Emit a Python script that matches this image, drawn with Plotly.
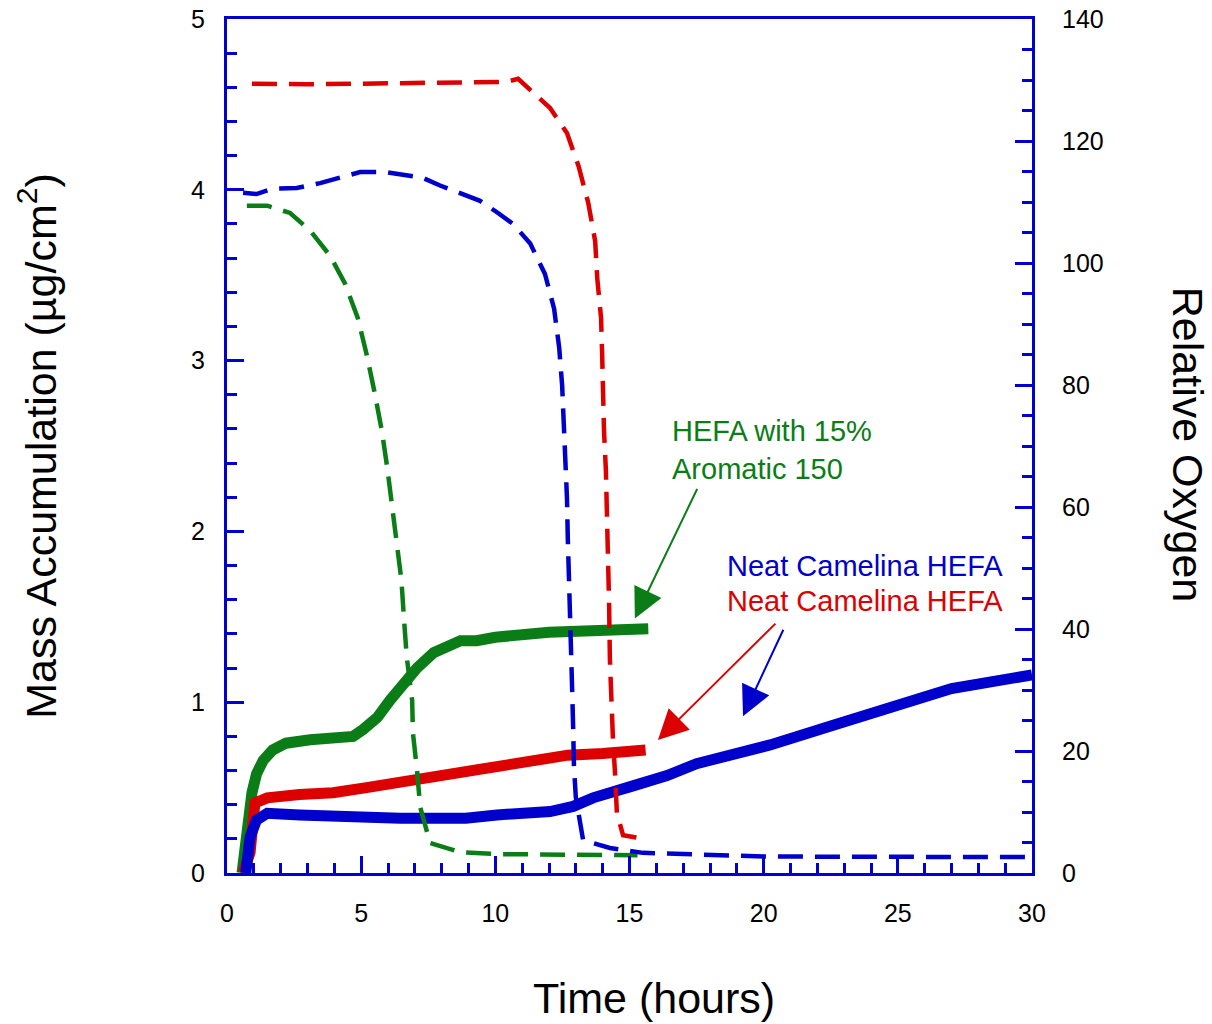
import plotly.graph_objects as go

# ---------------- data ----------------
# Mass accumulation (left axis, µg/cm²)
green_mass_t = [0.56, 0.74, 0.93, 1.1, 1.35, 1.7, 2.2, 3.1, 3.95, 4.7, 5.07, 5.6, 6.07, 6.56,
                7.08, 7.7, 8.7, 9.3, 10, 12, 14, 15.7]
green_mass_v = [0, 0.29, 0.47, 0.58, 0.66, 0.72, 0.76, 0.78, 0.79, 0.80, 0.84, 0.91, 1.01, 1.11,
                1.2, 1.29, 1.36, 1.36, 1.38, 1.41, 1.42, 1.43]

red_mass_t = [0.6, 0.86, 1.04, 1.5, 2.7, 3.95, 5.2, 6.45, 7.7, 8.9, 9.9, 11.3, 12.7, 14, 15.6]
red_mass_v = [0, 0.12, 0.41, 0.44, 0.46, 0.47, 0.5, 0.53, 0.57, 0.59, 0.62, 0.66, 0.69, 0.70, 0.72]

blue_mass_t = [0.7, 0.86, 1.1, 1.5, 2.7, 3.95, 5.2, 6.45, 7.7, 8.9, 10.06, 12.04, 12.9, 13.64,
               15.13, 16.4, 17.5, 20.24, 22.5, 25.1, 27, 30]
blue_mass_v = [0, 0.21, 0.31, 0.35, 0.34, 0.33, 0.32, 0.32, 0.32, 0.32, 0.34, 0.36, 0.39, 0.44,
               0.51, 0.57, 0.64, 0.75, 0.86, 0.98, 1.08, 1.16]

# Relative oxygen (right axis)
green_o2_t = [0.74, 1.5, 2.35, 3.1, 3.84, 4.4, 4.88, 5.2, 5.5, 5.77, 5.97, 6.15, 6.33, 6.5, 6.6,
              6.7, 6.9, 6.93, 7.08, 7.2, 7.57, 8.7, 10, 12, 15.3]
green_o2_v = [109.4, 109.4, 108.2, 105.3, 101.2, 96.6, 90.9, 85.1, 78.8, 72.5, 66.5, 59.9, 54,
              48, 41.4, 35.4, 28.3, 22.9, 16.9, 10.8, 4.9, 3.4, 3.1, 3.0, 2.9]

blue_o2_t = [0.6, 1.1, 1.7, 2.6, 3.47, 4.3, 4.96, 5.9, 6.6, 7.27, 7.94, 8.8, 9.43, 10.1, 10.66,
             11.3, 11.85, 12.19, 12.38, 12.49, 12.56, 12.6, 12.67, 12.7, 12.75, 12.78, 12.82,
             12.86, 12.9, 12.93, 13.0, 13.27, 14.27, 15.5, 20, 30]
blue_o2_v = [111.5, 111.3, 112.2, 112.3, 113.1, 114, 114.9, 114.9, 114.5, 114, 112.7, 111.3,
             110.2, 108.2, 106.4, 103.2, 98.2, 92.5, 86.1, 79.9, 73.7, 67.6, 61.4, 55, 48.8,
             42.6, 36.5, 30.5, 23.9, 17.4, 12.4, 5.4, 4.1, 3.3, 2.7, 2.6]

red_o2_t = [0.93, 3, 5, 7, 9, 10.43, 10.85, 11.37, 12.04, 12.67, 13.1, 13.46, 13.72, 13.8, 13.94,
            13.98, 14.01, 14.05, 14.12, 14.2, 14.24, 14.27, 14.31, 14.38, 14.46, 14.53, 14.76, 15.4]
red_o2_v = [129.4, 129.3, 129.4, 129.5, 129.6, 129.7, 130.2, 128.2, 125.4, 121.3, 115.9, 109.9,
            103.6, 97.4, 91, 85.1, 78.8, 72.5, 66, 53.7, 44, 34.9, 28.8, 22.3, 16.4, 9.8, 6.2, 5.7]

x_ticks = [0, 5, 10, 15, 20, 25, 30]
y_ticks = [0, 1, 2, 3, 4, 5]
y2_ticks = [0, 20, 40, 60, 80, 100, 120, 140]

# ---------------- style ----------------
BLUE = "#0000CC"
RED = "#DD0000"
GREEN = "#0A7D16"
AXIS = "#0000D0"
FONT = "Liberation Sans, Arial, sans-serif"
SOLID_W = 11
DASH_W = 4.5
DASH = "25px,12px"

fig = go.Figure()

for t, v, c, name in [(green_mass_t, green_mass_v, GREEN, "HEFA with 15% Aromatic 150 (mass)"),
                      (red_mass_t, red_mass_v, RED, "Neat Camelina HEFA (mass, red)"),
                      (blue_mass_t, blue_mass_v, BLUE, "Neat Camelina HEFA (mass, blue)")]:
    fig.add_trace(go.Scatter(x=t, y=v, mode="lines", name=name,
                             line=dict(color=c, width=SOLID_W), yaxis="y"))

for t, v, c, name in [(green_o2_t, green_o2_v, GREEN, "HEFA with 15% Aromatic 150 (O2)"),
                      (blue_o2_t, blue_o2_v, BLUE, "Neat Camelina HEFA (O2, blue)"),
                      (red_o2_t, red_o2_v, RED, "Neat Camelina HEFA (O2, red)")]:
    fig.add_trace(go.Scatter(x=t, y=v, mode="lines", name=name,
                             line=dict(color=c, width=DASH_W, dash=DASH), yaxis="y2"))

tickfont = dict(family=FONT, size=25, color="black")
titlefont = dict(family=FONT, size=43, color="black")

fig.update_layout(
    width=1212, height=1024,
    margin=dict(l=227, r=180, t=19, b=151, autoexpand=False),
    paper_bgcolor="white", plot_bgcolor="white",
    showlegend=False,
    font=dict(family=FONT, color="black"),
    xaxis=dict(
        range=[0, 30], tickvals=x_ticks, ticks="inside", ticklen=17, tickwidth=3,
        tickcolor=AXIS, showline=True, linecolor=AXIS, linewidth=3, mirror=True,
        showgrid=False, zeroline=False, tickfont=tickfont, ticklabelstandoff=16,
        ticklabeloverflow="allow",
        minor=dict(dtick=1, ticks="inside", ticklen=10, tickwidth=3, tickcolor=AXIS, showgrid=False),
    ),
    yaxis=dict(
        range=[0, 5], tickvals=y_ticks, ticks="inside", ticklen=17, tickwidth=3,
        tickcolor=AXIS, showline=True, linecolor=AXIS, linewidth=3,
        showgrid=False, zeroline=False, tickfont=tickfont, ticklabelstandoff=14,
        ticklabeloverflow="allow",
        minor=dict(dtick=0.2, ticks="inside", ticklen=10, tickwidth=3, tickcolor=AXIS, showgrid=False),
        title=dict(text="Mass Accumulation (µg/cm<sup>2</sup>)", font=titlefont, standoff=122),
    ),
    yaxis2=dict(
        range=[0, 140], tickvals=y2_ticks, overlaying="y", side="right",
        ticks="inside", ticklen=17, tickwidth=3, tickcolor=AXIS,
        showline=True, linecolor=AXIS, linewidth=3,
        showgrid=False, zeroline=False, tickfont=tickfont, ticklabelstandoff=22,
        ticklabeloverflow="allow",
        minor=dict(dtick=5, ticks="inside", ticklen=10, tickwidth=3, tickcolor=AXIS, showgrid=False),
    ),
)

# x axis title (sits a little right of centre in the reference)
fig.add_annotation(text="Time (hours)", xref="paper", yref="paper", x=0.530, y=-0.1464,
                   xanchor="center", yanchor="middle", showarrow=False, font=titlefont)

# right axis title (reads top to bottom)
fig.add_annotation(text="Relative Oxygen", xref="paper", yref="paper", x=1.193, y=0.501,
                   xanchor="center", yanchor="middle",
                   showarrow=False, textangle=90, font=titlefont)

# series labels
ann_font = 29
fig.add_annotation(text="HEFA with 15%<br>Aromatic 150", x=16.51, y=2.477, xref="x", yref="y",
                   xanchor="left", yanchor="middle", align="left", showarrow=False,
                   font=dict(family=FONT, size=ann_font, color=GREEN))
fig.add_annotation(text="Neat Camelina HEFA", x=18.56, y=1.795, xref="x", yref="y",
                   xanchor="left", yanchor="middle", showarrow=False,
                   font=dict(family=FONT, size=ann_font, color=BLUE))
fig.add_annotation(text="Neat Camelina HEFA", x=18.56, y=1.591, xref="x", yref="y",
                   xanchor="left", yanchor="middle", showarrow=False,
                   font=dict(family=FONT, size=ann_font, color=RED))

# arrows
for hx, hy, ax, ay, c in [(15.2, 1.49, 63, -131, GREEN),
                          (16.06, 0.778, 119, -118, RED),
                          (19.23, 0.918, 41, -88, BLUE)]:
    fig.add_annotation(x=hx, y=hy, xref="x", yref="y", ax=ax, ay=ay, text="",
                       showarrow=True, arrowhead=2, arrowsize=3, arrowwidth=2, arrowcolor=c)

fig.write_html("out.html", config={"displayModeBar": False},
               post_script="document.body.style.margin='0';document.body.style.overflow='hidden';")
